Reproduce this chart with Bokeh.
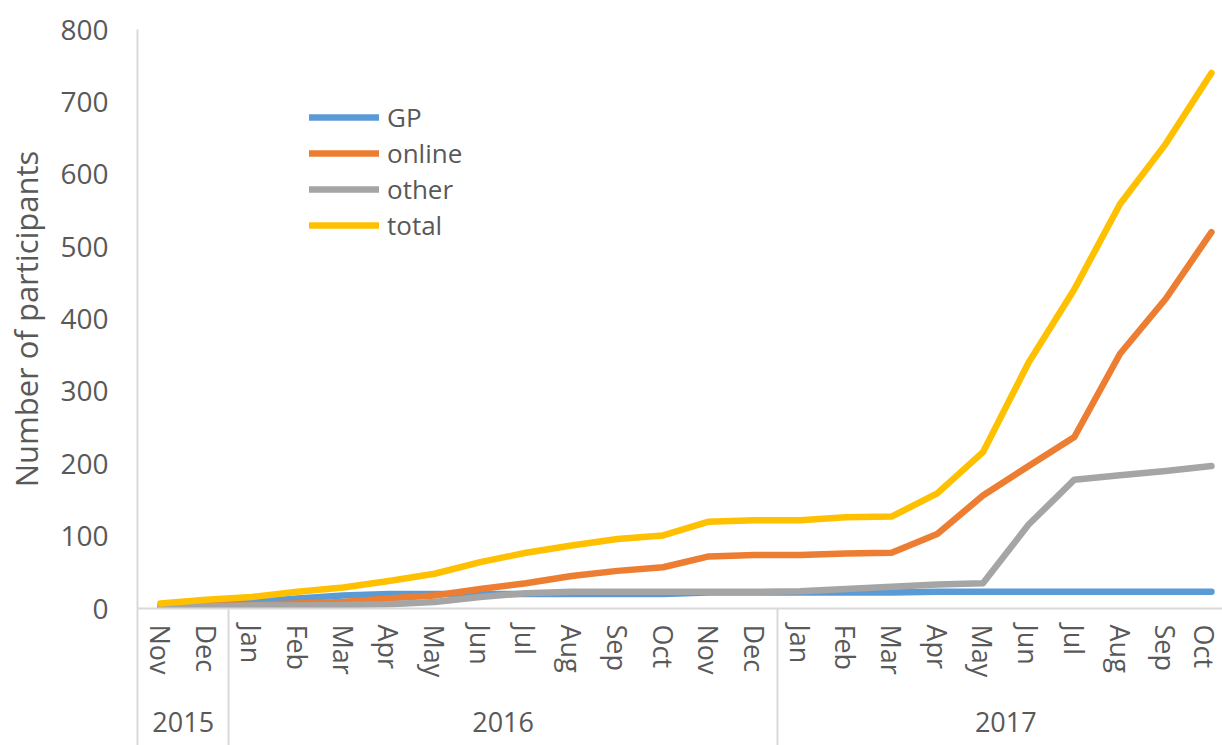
import math
from bokeh.plotting import figure
from bokeh.models import (LinearAxis, FixedTicker, Range1d, Legend, LegendItem,
                          ColumnDataSource)
from bokeh.embed import file_html
from bokeh.resources import INLINE

# ---------------- data ----------------
months = ["Nov", "Dec",
          "Jan", "Feb", "Mar", "Apr", "May", "Jun", "Jul", "Aug", "Sep", "Oct", "Nov", "Dec",
          "Jan", "Feb", "Mar", "Apr", "May", "Jun", "Jul", "Aug", "Sep", "Oct"]
years = ["2015", "2016", "2017"]
months_per_year = [2, 12, 10]

gp     = [3, 6, 9, 14, 18, 20, 20, 20, 20, 20, 20, 20, 22, 22, 22, 22, 22, 23, 23, 23, 23, 23, 23, 23]
online = [2, 4, 5, 7, 9, 14, 18, 27, 35, 45, 52, 57, 72, 74, 74, 76, 77, 103, 156, 197, 237, 352, 428, 520]
other  = [2, 3, 4, 4, 5, 6, 9, 16, 21, 23, 23, 23, 23, 23, 24, 27, 30, 33, 35, 116, 178, 184, 190, 197]
total  = [7, 12, 16, 23, 29, 38, 48, 64, 77, 87, 96, 101, 120, 122, 122, 126, 127, 159, 216, 340, 441, 559, 642, 740]

series_names = ["GP", "online", "other", "total"]
series_values = [gp, online, other, total]
series_colors = ["#5B9BD5", "#ED7D31", "#A5A5A5", "#FFC000"]

y_ticks = [0, 100, 200, 300, 400, 500, 600, 700, 800]

# ---------------- derived positions ----------------
x = list(range(len(months)))
bounds = [-0.5]
year_centers = []
start = 0
for n in months_per_year:
    year_centers.append(start + (n - 1) / 2)
    start += n
    bounds.append(start - 0.5)

FONT = "Open Sans"
TXT = "#595959"
AXC = "#D9D9D9"

W, H = 1222, 745
LEFT, TOP, BOTTOM = 137, 29, 137
step = 45.7
x_end = -0.5 + (W - LEFT) / step

p = figure(width=W, height=H, output_backend="svg", toolbar_location=None,
           x_axis_type=None, x_range=Range1d(-0.5, x_end), y_range=Range1d(0, 800),
           min_border_left=LEFT, min_border_top=TOP, min_border_bottom=BOTTOM,
           min_border_right=0)
p.outline_line_color = None
p.grid.visible = False
p.background_fill_color = "white"
p.border_fill_color = "white"

# y axis
ya = p.yaxis[0]
ya.ticker = FixedTicker(ticks=y_ticks)
ya.major_tick_line_color = None
ya.minor_tick_line_color = None
ya.major_tick_out = 0
ya.minor_tick_out = 0
ya.axis_line_color = AXC
ya.axis_line_width = 2
ya.major_label_text_font = FONT
ya.major_label_text_font_size = "28px"
ya.major_label_text_color = TXT
ya.major_label_standoff = 29
ya.axis_label = "Number of participants"
ya.axis_label_text_font = FONT
ya.axis_label_text_font_size = "31px"
ya.axis_label_text_font_style = "normal"
ya.axis_label_text_color = TXT
ya.axis_label_standoff = 10

# month axis (group separators drawn as long minor ticks)
SEP = 137
month_axis = LinearAxis(
    ticker=FixedTicker(ticks=x, minor_ticks=bounds),
    major_label_overrides={i: m for i, m in enumerate(months)},
    major_label_orientation="vertical",
    major_tick_line_color=None, major_tick_out=0, major_tick_in=0,
    minor_tick_line_color=AXC, minor_tick_line_width=2,
    minor_tick_out=SEP, minor_tick_in=0,
    axis_line_color=AXC, axis_line_width=2,
    major_label_text_font=FONT, major_label_text_font_size="27px",
    major_label_text_color=TXT, major_label_standoff=16 - SEP,
)
p.add_layout(month_axis, "below")

# year axis
year_axis = LinearAxis(
    ticker=FixedTicker(ticks=year_centers),
    major_label_overrides={c: y for c, y in zip(year_centers, years)},
    major_tick_line_color=None, major_tick_out=0, major_tick_in=0,
    minor_tick_line_color=None, minor_tick_out=0, minor_tick_in=0,
    axis_line_color=None,
    major_label_text_font=FONT, major_label_text_font_size="27px",
    major_label_text_color=TXT, major_label_standoff=31,
)
p.add_layout(year_axis, "below")

items = []
for name, vals, col in zip(series_names, series_values, series_colors):
    src = ColumnDataSource(dict(x=x, y=vals))
    r = p.line("x", "y", source=src, line_color=col, line_width=6.5,
               line_cap="round", line_join="round")
    items.append(LegendItem(label=name, renderers=[r]))

legend = Legend(items=items, location=(172, 365), orientation="vertical",
                glyph_width=70, glyph_height=34, label_height=34, spacing=0,
                label_standoff=8, padding=0, margin=0,
                label_text_font=FONT, label_text_font_size="26px",
                label_text_color=TXT, background_fill_alpha=0,
                border_line_color=None)
p.add_layout(legend)

open("out.html", "w").write(file_html(p, INLINE))
